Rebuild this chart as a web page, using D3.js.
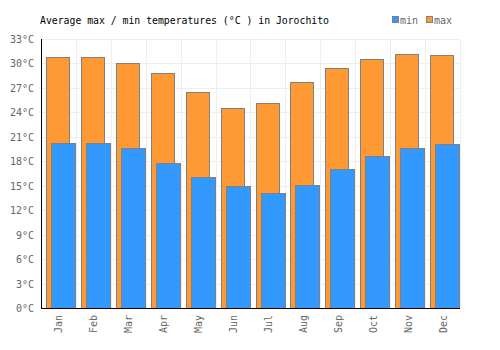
<!DOCTYPE html>
<html>
<head>
<meta charset="utf-8">
<script src="https://cdn.jsdelivr.net/npm/d3@7"></script>
<style>
  body { margin: 0; background: #fff; }
  svg text { font-family: "DejaVu Sans Mono", monospace; }
</style>
</head>
<body>
<svg id="chart" width="500" height="350"></svg>
<script>
const months = ["Jan", "Feb", "Mar", "Apr", "May", "Jun", "Jul", "Aug", "Sep", "Oct", "Nov", "Dec"];
const maxTemps = [30.8, 30.8, 30.0, 28.8, 26.5, 24.5, 25.2, 27.7, 29.5, 30.5, 31.1, 31.0];
const minTemps = [20.3, 20.2, 19.6, 17.8, 16.1, 15.0, 14.1, 15.1, 17.1, 18.7, 19.6, 20.1];
const yTicks = [0, 3, 6, 9, 12, 15, 18, 21, 24, 27, 30, 33];

const svg = d3.select("#chart");
const margin = { top: 39, right: 40, bottom: 42, left: 41 };
const width = 460 - margin.left;
const height = 308 - margin.top;

const g = svg.append("g").attr("transform", `translate(${margin.left},${margin.top})`);

const x = d3.scaleBand().domain(months).range([0, width]);
const y = d3.scaleLinear().domain([0, 33]).range([height, 0]);

// grid
g.selectAll("line.hgrid").data(yTicks).enter().append("line")
  .attr("x1", 0).attr("x2", width)
  .attr("y1", d => Math.round(y(d)) + 0.5).attr("y2", d => Math.round(y(d)) + 0.5)
  .attr("stroke", "#eeeeee");
g.selectAll("line.vgrid").data(months).enter().append("line")
  .attr("x1", d => Math.round(x(d) + x.bandwidth()) + 0.5)
  .attr("x2", d => Math.round(x(d) + x.bandwidth()) + 0.5)
  .attr("y1", 0).attr("y2", height)
  .attr("stroke", "#eeeeee");

// max bars
g.selectAll("rect.max").data(maxTemps).enter().append("rect")
  .attr("x", (d, i) => Math.round(x(months[i]) + 5) + 0.5)
  .attr("y", d => Math.round(y(d)) + 0.5)
  .attr("width", 23)
  .attr("height", d => height - Math.round(y(d)))
  .attr("fill", "#ff9933")
  .attr("stroke", "#808080");

// min bars
g.selectAll("rect.min").data(minTemps).enter().append("rect")
  .attr("x", (d, i) => Math.round(x(months[i]) + 10) + 0.5)
  .attr("y", d => Math.round(y(d)) + 0.5)
  .attr("width", 24)
  .attr("height", d => height - Math.round(y(d)))
  .attr("fill", "#3399ff")
  .attr("stroke", "#808080");

// axes lines
g.append("line").attr("x1", 0.5).attr("x2", 0.5).attr("y1", 0).attr("y2", height + 0.5)
  .attr("stroke", "#000");
g.append("line").attr("x1", 0).attr("x2", width).attr("y1", height + 0.5).attr("y2", height + 0.5)
  .attr("stroke", "#000");

// y labels
g.selectAll("text.ylab").data(yTicks).enter().append("text")
  .attr("x", -7).attr("y", d => y(d) + 4)
  .attr("text-anchor", "end")
  .attr("fill", "#666")
  .style("font-size", "10px")
  .text(d => d + "°C");

// x labels
g.selectAll("text.xlab").data(months).enter().append("text")
  .attr("transform", d => `translate(${x(d) + x.bandwidth() / 2 + 4},${height + 7}) rotate(-90)`)
  .attr("text-anchor", "end")
  .attr("fill", "#666")
  .style("font-size", "10px")
  .text(d => d);

// title
svg.append("text").attr("x", 40).attr("y", 24)
  .style("font-size", "9.8px").attr("fill", "#000")
  .text("Average max / min temperatures (°C ) in Jorochito");

// legend
const legend = svg.append("g").attr("transform", "translate(392,16)");
[["min", "#3399ff", 0], ["max", "#ff9933", 34]].forEach(([name, col, dx]) => {
  legend.append("rect").attr("x", dx + 0.5).attr("y", 0.5).attr("width", 6).attr("height", 6)
    .attr("fill", col).attr("stroke", "#808080");
  legend.append("text").attr("x", dx + 8).attr("y", 8)
    .style("font-size", "10px").attr("fill", "#666").text(name);
});
</script>
</body>
</html>
